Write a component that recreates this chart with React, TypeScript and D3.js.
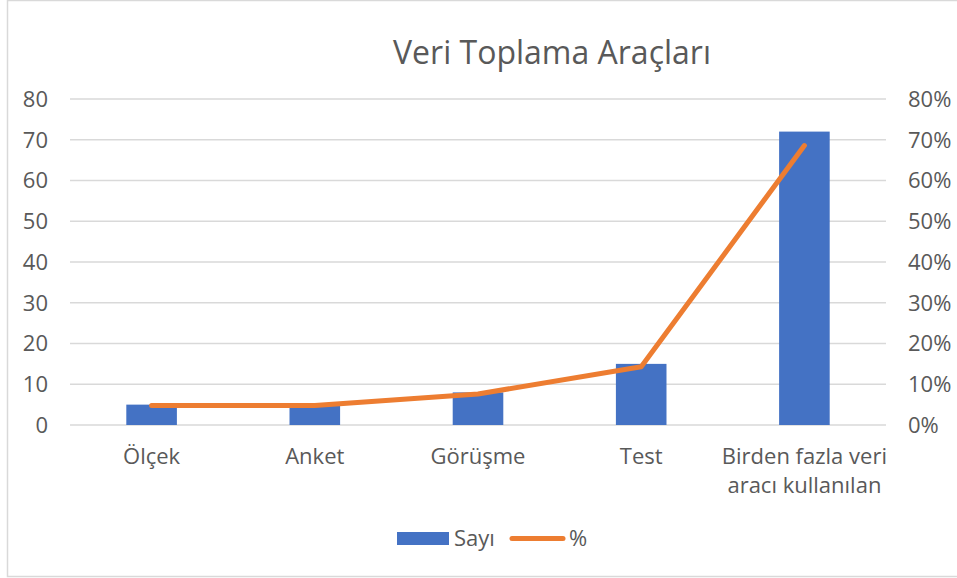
import { useEffect, useRef } from 'react';
import * as d3 from 'd3';

const categories = ['Ölçek', 'Anket', 'Görüşme', 'Test', 'Birden fazla veri aracı kullanılan'];
const categoryLines = [['Ölçek'], ['Anket'], ['Görüşme'], ['Test'], ['Birden fazla veri', 'aracı kullanılan']];
const counts = [5, 5, 8, 15, 72];
const percents = [0.0476, 0.0476, 0.0762, 0.1429, 0.6857];
const leftTicks = [0, 10, 20, 30, 40, 50, 60, 70, 80];
const rightTicks = [0, 0.1, 0.2, 0.3, 0.4, 0.5, 0.6, 0.7, 0.8];

const App = () => {
  const svgRef = useRef<SVGSVGElement>(null);

  useEffect(() => {
    document.body.style.margin = '0';
    const svg = d3.select(svgRef.current);
    svg.selectAll('*').remove();

    const width = 957;
    const height = 578;
    const margin = { top: 99, right: 71, bottom: 153, left: 70 };
    const font = '"Open Sans", sans-serif';
    const textColor = '#595959';

    svg.append('rect')
      .attr('x', 7.5).attr('y', 0.5)
      .attr('width', width + 10).attr('height', height - 2)
      .attr('fill', 'white').attr('stroke', '#d9d9d9').attr('stroke-width', 1.5);

    const x = d3.scaleBand()
      .domain(categories)
      .range([margin.left, width - margin.right])
      .paddingInner(0.69)
      .paddingOuter(0.345);

    const band = d3.scaleBand()
      .domain(categories)
      .range([margin.left, width - margin.right]);

    const y = d3.scaleLinear().domain([0, 80]).range([height - margin.bottom, margin.top]);
    const y2 = d3.scaleLinear().domain([0, 0.8]).range([height - margin.bottom, margin.top]);

    // gridlines
    svg.append('g')
      .selectAll('line')
      .data(leftTicks)
      .enter()
      .append('line')
      .attr('x1', margin.left).attr('x2', width - margin.right)
      .attr('y1', (d) => y(d)).attr('y2', (d) => y(d))
      .attr('stroke', '#d9d9d9').attr('stroke-width', 1.3);

    // left axis labels
    svg.append('g')
      .selectAll('text')
      .data(leftTicks)
      .enter()
      .append('text')
      .attr('x', 48).attr('y', (d) => y(d))
      .attr('dy', '0.36em')
      .attr('text-anchor', 'end')
      .style('font-family', font).style('font-size', '22px')
      .attr('fill', textColor)
      .text((d) => d);

    // right axis labels
    svg.append('g')
      .selectAll('text')
      .data(rightTicks)
      .enter()
      .append('text')
      .attr('x', 908).attr('y', (d) => y2(d))
      .attr('dy', '0.36em')
      .attr('text-anchor', 'start')
      .style('font-family', font).style('font-size', '22px')
      .attr('fill', textColor)
      .text((d) => d3.format('.0%')(d));

    // bars
    svg.append('g')
      .selectAll('rect')
      .data(counts)
      .enter()
      .append('rect')
      .attr('x', (_d, i) => x(categories[i]) as number)
      .attr('y', (d) => y(d))
      .attr('width', x.bandwidth())
      .attr('height', (d) => y(0) - y(d))
      .attr('fill', '#4472c4');

    // line
    const line = d3.line<number>()
      .x((_d, i) => (band(categories[i]) as number) + band.bandwidth() / 2)
      .y((d) => y2(d));

    svg.append('path')
      .datum(percents)
      .attr('d', line)
      .attr('fill', 'none')
      .attr('stroke', '#ed7d31')
      .attr('stroke-width', 5)
      .attr('stroke-linecap', 'round')
      .attr('stroke-linejoin', 'round');

    // category labels
    categoryLines.forEach((lines, i) => {
      const cx = (band(categories[i]) as number) + band.bandwidth() / 2;
      lines.forEach((t, j) => {
        svg.append('text')
          .attr('x', cx).attr('y', 464 + j * 28.5)
          .attr('text-anchor', 'middle')
          .style('font-family', font).style('font-size', '22px')
          .attr('fill', textColor)
          .text(t);
      });
    });

    // title
    svg.append('text')
      .attr('x', 552).attr('y', 64)
      .attr('text-anchor', 'middle')
      .style('font-family', font).style('font-size', '32px')
      .attr('fill', textColor)
      .text('Veri Toplama Araçları');

    // legend
    const lg = svg.append('g');
    lg.append('rect')
      .attr('x', 397).attr('y', 532).attr('width', 52).attr('height', 13)
      .attr('fill', '#4472c4');
    lg.append('text')
      .attr('x', 454).attr('y', 546)
      .style('font-family', font).style('font-size', '22px')
      .attr('fill', textColor).text('Sayı');
    lg.append('line')
      .attr('x1', 512).attr('x2', 563).attr('y1', 538.5).attr('y2', 538.5)
      .attr('stroke', '#ed7d31').attr('stroke-width', 5).attr('stroke-linecap', 'round');
    lg.append('text')
      .attr('x', 569).attr('y', 546)
      .style('font-family', font).style('font-size', '22px')
      .attr('fill', textColor).text('%');
  }, []);

  return <svg ref={svgRef} width={957} height={578} style={{ display: 'block' }}></svg>;
};

export default App;
